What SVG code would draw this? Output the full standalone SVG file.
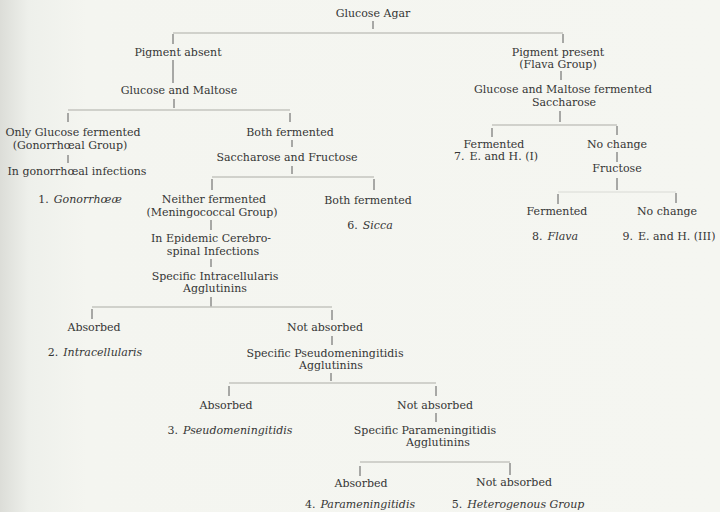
<svg xmlns="http://www.w3.org/2000/svg" width="720" height="512" viewBox="0 0 720 512">
<defs>
<linearGradient id="bg" x1="0" y1="0" x2="1" y2="0">
<stop offset="0" stop-color="#dcddd8"/>
<stop offset="0.04" stop-color="#eef0eb"/>
<stop offset="0.12" stop-color="#f4f5f0"/>
<stop offset="1" stop-color="#f5f6f1"/>
</linearGradient>
<style>
text{font-family:"DejaVu Serif","Liberation Serif",serif;font-size:11px;fill:#353535;text-anchor:middle}
.i{font-style:italic}
.v{stroke:#5a5a5a;stroke-width:1;fill:none}
.h{stroke:#c4c5bf;stroke-width:1.6;fill:none}
.hf{stroke:#e2e3de;stroke-width:1.6;fill:none}
</style>
</defs>
<rect x="0" y="0" width="720" height="512" fill="url(#bg)"/>
<g id="connectors">
<path class="v" d="M373 21V29"/>
<path class="h" d="M173 33H563"/>
<path class="v" d="M173 34V44M563 34V43"/>
<path class="v" d="M173 60V83" stroke-width="1.3"/>
<path class="v" d="M174 99V108"/>
<path class="h" d="M68 110H290"/>
<path class="v" d="M68 113V122M290 113V122"/>
<path class="v" d="M68 155V163"/>
<path class="v" d="M292 140V147M292 166V174"/>
<path class="h" d="M212 177H374"/>
<path class="v" d="M212 179V190M374 179V190"/>
<path class="v" d="M211 220V230M211 259V267M211 297V307"/>
<path class="h" d="M92 307H332"/>
<path class="v" d="M92 309V319M332 310V320"/>
<path class="v" d="M332 336V345M331 373V381"/>
<path class="h" d="M229 383H436"/>
<path class="v" d="M229 386V396M436 386V396M436 413V422"/>
<path class="h" d="M360 462H510"/>
<path class="v" d="M360 466V476M510 463V475"/>
<path class="v" d="M561 71V80M560 111V122"/>
<path class="h" d="M492 125H617"/>
<path class="v" d="M492 128V137M617 126V135M617 152V162M617 178V190"/>
<path class="hf" d="M558 192H676"/>
<path class="v" d="M558 194V204M676 193V203"/>
</g>
<g id="n0"><text x="373" y="17">Glucose Agar</text></g>
<g id="n1"><text x="178" y="56">Pigment absent</text></g>
<g id="n2"><text x="558" y="56">Pigment present</text><text x="558" y="68">(Flava Group)</text></g>
<g id="n3"><text x="179" y="94">Glucose and Maltose</text></g>
<g id="n4"><text x="563" y="93">Glucose and Maltose fermented</text><text x="564" y="106">Saccharose</text></g>
<g id="n5"><text x="73" y="136">Only Glucose fermented</text><text x="70" y="149">(Gonorrhœal Group)</text></g>
<g id="n6"><text x="77" y="175">In gonorrhœal infections</text></g>
<g id="n7"><text x="80" y="203">1.<tspan dx="5" class="i">Gonorrhœæ</tspan></text></g>
<g id="n8"><text x="290" y="136">Both fermented</text></g>
<g id="n9"><text x="287" y="161">Saccharose and Fructose</text></g>
<g id="n10"><text x="214" y="203">Neither fermented</text><text x="212" y="216">(Meningococcal Group)</text></g>
<g id="n11"><text x="368" y="204">Both fermented</text></g>
<g id="n12"><text x="370" y="229">6.<tspan dx="5" class="i">Sicca</tspan></text></g>
<g id="n13"><text x="211" y="242">In Epidemic Cerebro-</text><text x="213" y="255">spinal Infections</text></g>
<g id="n14"><text x="215" y="280">Specific Intracellularis</text><text x="215" y="292">Agglutinins</text></g>
<g id="n15"><text x="94" y="331">Absorbed</text></g>
<g id="n16"><text x="95" y="356">2.<tspan dx="5" class="i">Intracellularis</tspan></text></g>
<g id="n17"><text x="325" y="331">Not absorbed</text></g>
<g id="n18"><text x="325" y="357">Specific Pseudomeningitidis</text><text x="331" y="369">Agglutinins</text></g>
<g id="n19"><text x="226" y="409">Absorbed</text></g>
<g id="n20"><text x="230" y="434">3.<tspan dx="5" class="i">Pseudomeningitidis</tspan></text></g>
<g id="n21"><text x="435" y="409">Not absorbed</text></g>
<g id="n22"><text x="425" y="434">Specific Parameningitidis</text><text x="438" y="446">Agglutinins</text></g>
<g id="n23"><text x="361" y="487">Absorbed</text></g>
<g id="n24"><text x="360" y="508">4.<tspan dx="5" class="i">Parameningitidis</tspan></text></g>
<g id="n25"><text x="514" y="486">Not absorbed</text></g>
<g id="n26"><text x="518" y="508">5.<tspan dx="5" class="i">Heterogenous Group</tspan></text></g>
<g id="n27"><text x="494" y="148">Fermented</text><text x="496" y="160">7.<tspan dx="5">E. and H. (I)</tspan></text></g>
<g id="n28"><text x="617" y="148">No change</text></g>
<g id="n29"><text x="617" y="172">Fructose</text></g>
<g id="n30"><text x="557" y="215">Fermented</text></g>
<g id="n31"><text x="667" y="215">No change</text></g>
<g id="n32"><text x="555" y="240">8.<tspan dx="5" class="i">Flava</tspan></text></g>
<g id="n33"><text x="669" y="240">9.<tspan dx="5">E. and H. (III)</tspan></text></g>
</svg>
